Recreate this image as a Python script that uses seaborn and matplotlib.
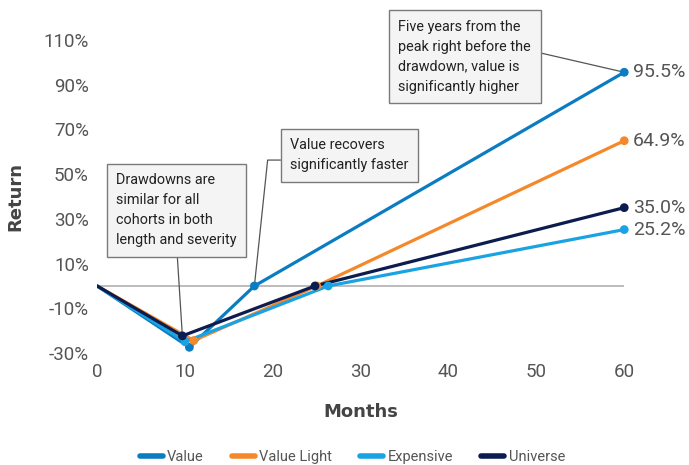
import pandas as pd
import matplotlib
matplotlib.use("Agg")
import matplotlib.pyplot as plt
import seaborn as sns

# Data
series = ["Value", "Value Light", "Expensive", "Universe"]
colors = ["#0a7cc1", "#f5892a", "#1aa3e3", "#0c1c4e"]
months = {
    "Value": [0, 10.5, 17.9, 60],
    "Value Light": [0, 11.0, 25.0, 60],
    "Expensive": [0, 10.0, 26.3, 60],
    "Universe": [0, 9.7, 24.8, 60],
}
returns = {
    "Value": [0, -27.4, 0, 95.5],
    "Value Light": [0, -24.4, 0, 64.9],
    "Expensive": [0, -24.9, 0, 25.2],
    "Universe": [0, -22.3, 0, 35.0],
}
end_labels = ["95.5%", "64.9%", "25.2%", "35.0%"]
x_ticks = [0, 10, 20, 30, 40, 50, 60]
y_ticks = [-30, -10, 10, 30, 50, 70, 90, 110]

rows = []
for s in series:
    for m, r in zip(months[s], returns[s]):
        rows.append({"series": s, "month": m, "ret": r})
df = pd.DataFrame(rows)

sns.set_style("white")
plt.rcParams["font.family"] = ["Roboto", "DejaVu Sans"]
grey = "#555555"

fig = plt.figure(figsize=(6.89, 4.65), dpi=100)
ax = fig.add_axes([0.141, 0.231, 0.765, 0.693])

ax.axhline(0, color="#b0b0b0", lw=1.2, zorder=1)

palette = dict(zip(series, colors))
sns.lineplot(data=df, x="month", y="ret", hue="series", hue_order=series,
             palette=palette, lw=2.3, sort=False, estimator=None, ax=ax, zorder=3)
pts = df[df["month"] > 0]
for s in series:
    sub = pts[pts["series"] == s]
    sns.scatterplot(data=sub, x="month", y="ret", color=palette[s], s=40,
                    edgecolor="none", ax=ax, zorder=4, clip_on=False, legend=False)

for s, lab in zip(series, end_labels):
    ax.text(61.0, returns[s][-1], lab, va="center", ha="left", fontsize=14,
            color=grey)

ax.set_xlim(0, 60)
ax.set_ylim(-32, 112)
ax.set_xticks(x_ticks)
ax.set_yticks(y_ticks)
ax.set_yticklabels([f"{v}%" for v in y_ticks])
ax.tick_params(length=0, labelsize=13.5, labelcolor=grey, pad=6)
ax.tick_params(axis="x", pad=4)
for sp in ax.spines.values():
    sp.set_visible(False)
ax.set_xlabel("Months", fontsize=13, fontweight="bold", color="#444444",
              labelpad=16, family=["DejaVu Sans"])
ax.set_ylabel("Return", fontsize=13, fontweight="bold", color="#444444",
              labelpad=14, family=["DejaVu Sans"])

box = dict(boxstyle="square,pad=0.65", fc="#f4f4f4", ec="#7a7a7a", lw=1)
line = dict(arrowstyle="-", color="#555555", lw=0.9, shrinkA=0, shrinkB=0)
note = dict(ha="left", va="top", fontsize=10.4, color="#222222",
            linespacing=1.55, textcoords="data", bbox=box)

ax.annotate("Drawdowns are\nsimilar for all\ncohorts in both\nlength and severity",
            xy=(9.7, -22.3), xytext=(2.2, 50.5),
            arrowprops=dict(line, relpos=(0.5, 0)), **note)
ax.annotate("Value recovers\nsignificantly faster",
            xy=(17.9, 0), xytext=(22.0, 66.0),
            arrowprops=dict(line, relpos=(0, 0.36),
                            connectionstyle="angle,angleA=0,angleB=84,rad=0"),
            **note)
ax.annotate("Five years from the\npeak right before the\ndrawdown, value is\nsignificantly higher",
            xy=(60, 95.5), xytext=(34.3, 119.0),
            arrowprops=dict(line, relpos=(1, 0.58)),
            annotation_clip=False, **note)

leg = ax.legend(loc="center", bbox_to_anchor=(0.484, -0.31), ncol=4,
                frameon=False, fontsize=10.5, handlelength=1.6,
                handletextpad=0.3, columnspacing=1.9, labelcolor=grey)
for h in leg.get_lines():
    h.set_linewidth(4)
    h.set_solid_capstyle("round")

fig.savefig("out.png", dpi=100)
